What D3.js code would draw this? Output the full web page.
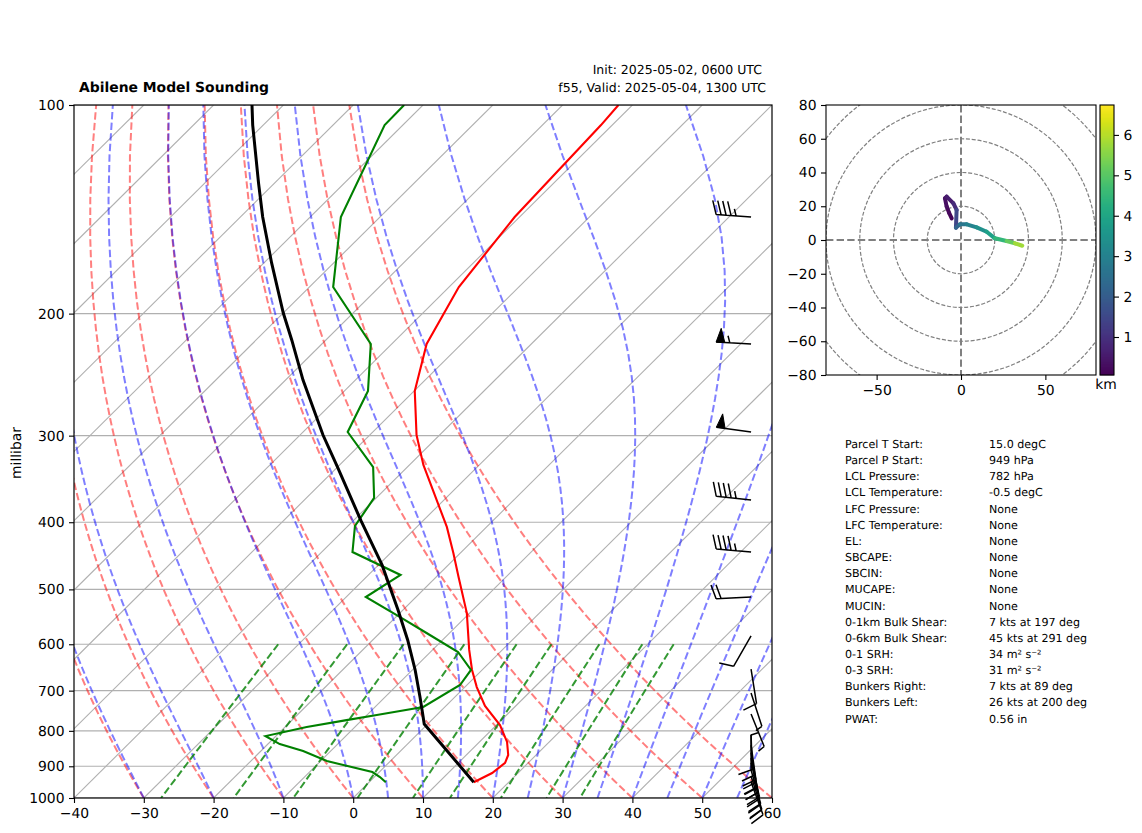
<!DOCTYPE html>
<html>
<head>
<meta charset="utf-8">
<script src="https://cdn.jsdelivr.net/npm/d3@7"></script>
<style>
    body { margin: 0; background: #fff; }
    text { font-family: "DejaVu Sans", sans-serif; fill: #000; text-rendering: geometricPrecision; }
    .axis text { font-size: 13.9px; }
    .axis line { stroke: #000; stroke-width: 1.1px; }
    .axis path { display: none; }
</style>
</head>
<body>
<svg id="chart" width="1142" height="833"></svg>
<script>
// sounding values: [pressure hPa, degC]
let tempData = [[100,-62.0],[106.9,-61.6],[145.1,-60.7],[183.1,-58.6],[221.2,-55.0],[258.7,-49.9],[299.4,-43.3],
    [330.7,-38.0],[406.3,-25.7],[443.1,-21.0],[479.8,-16.8],[541,-10.4],[611.4,-4.75],[653.5,-1.45],[691.8,1.7],
    [736.5,5.6],[784.7,10.5],[830,13.95],[866.8,16.0],[890,16.7],[920.3,16.3],[949,15.0]];
let dewData = [[100,-92.7],[106.9,-92.6],[145.1,-85.6],[183.1,-76.6],[221.2,-63.0],[258.7,-56.6],[296.4,-53.6],
    [333,-44.9],[369,-40.3],[405,-39.0],[441.6,-35.6],[476.6,-25.4],[512.8,-27.2],[550,-19.0],[578,-13.3],
    [615.6,-6.05],[653.5,-1.6],[687,-1.0],[739,-3.1],[759,-8.6],[772,-12.2],[790,-16.9],[814,-21.5],[836,-18.3],
    [855.5,-13.95],[884.5,-9.1],[917.4,-1.0],[932.6,0.8],[949,2.4]];
let parcelData = [[100,-114.5],[106.9,-111.5],[129.6,-102.3],[145.1,-96.8],[169,-88.9],[199.6,-80.0],[218.3,-74.9],
    [249.4,-67.5],[299.4,-56.7],[333,-50.0],[398,-38.9],[461,-29.5],[535.5,-20.7],[591.5,-15.0],[653.5,-9.6],
    [715,-5.0],[759,-2.0],[782,-0.5],[949,15.0]];

// wind barbs: pressure, speed (kts), direction (deg)
let windData = [[145.1,45,274],[221.2,55,273],[296.4,50,278],[371.5,45,276],[441.6,45,275],[512.8,20,267],
    [583.7,10,210],[651.5,10,171],[705.5,5,162],[756.5,5,158],[810,10,178],[911,5,0],
    [838.6,20,172],[860,20,170],[876,20,168],[890,20,166],[911,20,164],[930,20,162],[948,20,160]];

// hodograph: u, v, height km
let hodoData = [[-5.5,12.8,0.06],[-7,16,0.15],[-8.5,19.8,0.25],[-9.5,24.7,0.35],[-8.5,25.7,0.45],[-4.5,21.7,0.75],
    [-2.6,17.8,1.0],[-3,7.3,1.9],[-0.6,9.3,2.5],[3.4,9.3,2.9],[9.3,7.5,3.2],[15.2,4.9,3.6],[20.1,1.0,4.1],
    [27,-0.6,4.8],[32,-2,5.5],[36.3,-3.4,6.1]];

let statsData = [
    ["Parcel T Start:", "15.0 degC"], ["Parcel P Start:", "949 hPa"], ["LCL Pressure:", "782 hPa"],
    ["LCL Temperature:", "-0.5 degC"], ["LFC Pressure:", "None"], ["LFC Temperature:", "None"],
    ["EL:", "None"], ["SBCAPE:", "None"], ["SBCIN:", "None"], ["MUCAPE:", "None"], ["MUCIN:", "None"],
    ["0-1km Bulk Shear:", "7 kts at 197 deg"], ["0-6km Bulk Shear:", "45 kts at 291 deg"],
    ["0-1 SRH:", "34 m\u00B2 s\u207B\u00B2"], ["0-3 SRH:", "31 m\u00B2 s\u207B\u00B2"],
    ["Bunkers Right:", "7 kts at 89 deg"], ["Bunkers Left:", "26 kts at 200 deg"], ["PWAT:", "0.56 in"]
];

let svg = d3.select("#chart");
let left = 74, right = 772, top_ = 105, bottom = 798;

let x = d3.scaleLinear().domain([-40, 60]).range([left, right]);
let y = d3.scaleLog().domain([1000, 100]).range([bottom, top_]);

// 45 degree skew, done in axes fractions like the skew-T projection
function skewX(t, p) {
    return x(t) + (bottom - y(p)) * (right - left) / (bottom - top_);
}

svg.append("clipPath").attr("id", "plotClip").append("rect")
    .attr("x", left).attr("y", top_).attr("width", right - left).attr("height", bottom - top_);

let plot = svg.append("g").attr("clip-path", "url(#plotClip)");
let line = d3.line().x(d => skewX(d[1], d[0])).y(d => y(d[0]));

// grid
d3.range(100, 1001, 100).forEach(p => {
    plot.append("line").attr("x1", left).attr("x2", right).attr("y1", y(p)).attr("y2", y(p))
        .attr("stroke", "#b0b0b0").attr("stroke-width", 1.1);
});
d3.range(-140, 61, 10).forEach(t => {
    plot.append("path").attr("d", line([[1000, t], [100, t]]))
        .attr("stroke", "#b0b0b0").attr("stroke-width", 1.1).attr("fill", "none");
});

// background thermodynamic lines, same equations as the sounding packages
let Rd = 287.05, Cp = 1005, Lv = 2.501e6, eps = 0.622;
function satVap(tc) { return 6.112 * Math.exp(17.67 * tc / (tc + 243.5)); }

let pLevels = d3.range(50).map(i => 1000 - i * 900 / 49);

function drawGuide(points, color, opacity) {
    plot.append("path").attr("d", line(points)).attr("fill", "none")
        .attr("stroke", color).attr("stroke-opacity", opacity)
        .attr("stroke-width", 2).attr("stroke-dasharray", "7.4,3.2");
}

// dry adiabats
d3.range(-40, 61, 10).forEach(t0 => {
    drawGuide(pLevels.map(p => [p, (t0 + 273.15) * Math.pow(p / 1000, Rd / Cp) - 273.15]), "red", 0.5);
});

// moist adiabats
function moistSlope(p, tk) {
    let es = satVap(tk - 273.15);
    let rs = eps * es / (p - es);
    return (Rd * tk + Lv * rs) / (Cp + Lv * Lv * rs * eps / (Rd * tk * tk)) / p;
}
d3.range(-40, 1, 10).concat(d3.range(5, 61, 5)).forEach(t0 => {
    let tk = t0 + 273.15;
    let pts = [[1000, t0]];
    for (let i = 1; i < pLevels.length; i++) {
        let p0 = pLevels[i - 1];
        let h = (pLevels[i] - p0) / 10;
        for (let j = 0; j < 10; j++) {
            let p = p0 + j * h;
            let k1 = moistSlope(p, tk);
            let k2 = moistSlope(p + h / 2, tk + h * k1 / 2);
            let k3 = moistSlope(p + h / 2, tk + h * k2 / 2);
            let k4 = moistSlope(p + h, tk + h * k3);
            tk += h * (k1 + 2 * k2 + 2 * k3 + k4) / 6;
        }
        pts.push([pLevels[i], tk - 273.15]);
    }
    drawGuide(pts, "blue", 0.5);
});

// mixing ratio lines
[0.0004, 0.001, 0.002, 0.004, 0.007, 0.01, 0.016, 0.024, 0.032].forEach(w => {
    let pts = d3.range(50).map(i => {
        let p = 600 + i * 400 / 49;
        let val = Math.log((w * p / (eps + w)) / 6.112);
        return [p, 243.5 * val / (17.67 - val)];
    });
    drawGuide(pts, "green", 0.8);
});

// sounding traces
plot.append("path").attr("d", line(tempData)).attr("fill", "none").attr("stroke", "red").attr("stroke-width", 2.1);
plot.append("path").attr("d", line(dewData)).attr("fill", "none").attr("stroke", "green").attr("stroke-width", 2.1);
plot.append("path").attr("d", line(parcelData)).attr("fill", "none").attr("stroke", "black").attr("stroke-width", 3);

// frame and axes
svg.append("rect").attr("x", left).attr("y", top_).attr("width", right - left).attr("height", bottom - top_)
    .attr("fill", "none").attr("stroke", "#000").attr("stroke-width", 1.2);

svg.append("g").attr("class", "axis").attr("transform", `translate(0,${bottom})`)
    .call(d3.axisBottom(x).tickValues(d3.range(-40, 61, 10)).tickSize(5).tickPadding(5));
svg.append("g").attr("class", "axis").attr("transform", `translate(${left},0)`)
    .call(d3.axisLeft(y).tickValues(d3.range(100, 1001, 100)).tickFormat(d3.format("d")).tickSize(5).tickPadding(4.5));

svg.append("text").text("millibar").attr("font-size", 13.9).attr("text-anchor", "middle")
    .attr("transform", "translate(21,453) rotate(-90)");

// titles
svg.append("text").text("Abilene Model Sounding").attr("x", 79).attr("y", 92)
    .attr("font-size", 13.9).attr("font-weight", "bold");
svg.append("text").text("Init: 2025-05-02, 0600 UTC").attr("x", 762).attr("y", 74)
    .attr("font-size", 12.5).attr("text-anchor", "end");
svg.append("text").text("f55, Valid: 2025-05-04, 1300 UTC").attr("x", 766).attr("y", 92)
    .attr("font-size", 12.5).attr("text-anchor", "end");

// barbs, sizes follow the usual barb proportions
let barbRoot = left + 0.97 * (right - left);
let barbLen = 35, barbH = 14, barbW = 8.75, barbGap = 5;
let barbs = svg.append("g");
windData.forEach(d => {
    let rootY = y(d[0]);
    let a = d[2] * Math.PI / 180;
    let sx = Math.sin(a), sy = -Math.cos(a);    // towards where the wind comes from
    let nx = -sy, ny = sx;                      // side of the feathers
    let at = (along, out) => [barbRoot + sx * along + nx * out, rootY + sy * along + ny * out];

    let flags = Math.floor(d[1] / 50);
    let full = Math.floor((d[1] - flags * 50) / 10);
    let half = Math.floor((d[1] - flags * 50 - full * 10) / 5);

    let path = d3.path();
    let start = at(0, 0), tip = at(barbLen, 0);
    path.moveTo(start[0], start[1]);
    path.lineTo(tip[0], tip[1]);
    let offset = barbLen;
    for (let i = 0; i < flags; i++) {
        let f = [at(offset, 0), at(offset + barbW / 2 - barbW, barbH), at(offset - barbW, 0)];
        barbs.append("path").attr("d", d3.line()(f) + "Z").attr("fill", "#000").attr("stroke", "#000");
        offset -= barbW + barbGap;
    }
    for (let i = 0; i < full; i++) {
        let a0 = at(offset, 0), a1 = at(offset + barbW / 2, barbH);
        path.moveTo(a0[0], a0[1]);
        path.lineTo(a1[0], a1[1]);
        offset -= barbGap;
    }
    if (half) {
        let a0 = at(offset, 0), a1 = at(offset + barbW / 4, barbH / 2);
        path.moveTo(a0[0], a0[1]);
        path.lineTo(a1[0], a1[1]);
    }
    barbs.append("path").attr("d", path.toString()).attr("fill", "none")
        .attr("stroke", "#000").attr("stroke-width", 1.5);
});

// hodograph
let hLeft = 826, hRight = 1096, hTop = 105, hBottom = 375;
let hx = d3.scaleLinear().domain([-80, 80]).range([hLeft, hRight]);
let hy = d3.scaleLinear().domain([-80, 80]).range([hBottom, hTop]);

svg.append("clipPath").attr("id", "hodoClip").append("rect")
    .attr("x", hLeft).attr("y", hTop).attr("width", hRight - hLeft).attr("height", hBottom - hTop);
let hodo = svg.append("g").attr("clip-path", "url(#hodoClip)");

[20, 40, 60, 80, 100].forEach(r => {
    hodo.append("circle").attr("cx", hx(0)).attr("cy", hy(0)).attr("r", hx(r) - hx(0))
        .attr("fill", "none").attr("stroke", "gray").attr("stroke-width", 1.2).attr("stroke-dasharray", "4,1.8");
});
hodo.append("line").attr("x1", hx(0)).attr("x2", hx(0)).attr("y1", hTop).attr("y2", hBottom)
    .attr("stroke", "gray").attr("stroke-width", 2).attr("stroke-dasharray", "7.4,3.2");
hodo.append("line").attr("x1", hLeft).attr("x2", hRight).attr("y1", hy(0)).attr("y2", hy(0))
    .attr("stroke", "gray").attr("stroke-width", 2).attr("stroke-dasharray", "7.4,3.2");

let zRange = [0.06, 6.74];
let zColor = d3.scaleSequential(d3.interpolateViridis).domain(zRange);
for (let i = 1; i < hodoData.length; i++) {
    let a = hodoData[i - 1], b = hodoData[i];
    hodo.append("line").attr("x1", hx(a[0])).attr("y1", hy(a[1])).attr("x2", hx(b[0])).attr("y2", hy(b[1]))
        .attr("stroke", zColor((a[2] + b[2]) / 2)).attr("stroke-width", 4).attr("stroke-linecap", "round");
}

svg.append("rect").attr("x", hLeft).attr("y", hTop).attr("width", hRight - hLeft).attr("height", hBottom - hTop)
    .attr("fill", "none").attr("stroke", "#000").attr("stroke-width", 1.1);
svg.append("g").attr("class", "axis").attr("transform", `translate(0,${hBottom})`)
    .call(d3.axisBottom(hx).tickValues([-50, 0, 50]).tickSize(5).tickPadding(5));
svg.append("g").attr("class", "axis").attr("transform", `translate(${hLeft},0)`)
    .call(d3.axisLeft(hy).tickValues(d3.range(-80, 81, 20)).tickSize(5).tickPadding(4.5));

// colorbar
let cbLeft = 1100, cbWidth = 14;
let cz = d3.scaleLinear().domain(zRange).range([hBottom, hTop]);
d3.range(0, 270).forEach(i => {
    let yy = hBottom - i - 1;
    svg.append("rect").attr("x", cbLeft).attr("y", yy).attr("width", cbWidth).attr("height", 1.3)
        .attr("fill", zColor(cz.invert(yy + 0.5)));
});
svg.append("rect").attr("x", cbLeft).attr("y", hTop).attr("width", cbWidth).attr("height", hBottom - hTop)
    .attr("fill", "none").attr("stroke", "#000").attr("stroke-width", 1.1);
svg.append("g").attr("class", "axis").attr("transform", `translate(${cbLeft + cbWidth},0)`)
    .call(d3.axisRight(cz).tickValues([1, 2, 3, 4, 5, 6]).tickFormat(d3.format("d")).tickSize(5).tickPadding(4.5));
svg.append("text").text("km").attr("x", 1106).attr("y", 389).attr("font-size", 13.9).attr("text-anchor", "middle");

// stats table
statsData.forEach((row, i) => {
    let yy = 448 + i * 16.15;
    svg.append("text").text(row[0]).attr("x", 845).attr("y", yy).attr("font-size", 11.1);
    svg.append("text").text(row[1]).attr("x", 989).attr("y", yy).attr("font-size", 11.1);
});
</script>
</body>
</html>
